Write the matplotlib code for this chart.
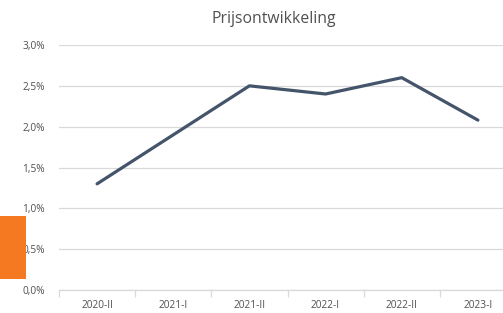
import matplotlib.pyplot as plt
from matplotlib.patches import Rectangle
from matplotlib.ticker import FixedLocator

plt.rcParams['font.family'] = ['Open Sans', 'DejaVu Sans']

periods = ['2020-II', '2021-I', '2021-II', '2022-I', '2022-II', '2023-I']
growth = [1.3, 1.9, 2.5, 2.4, 2.6, 2.08]
yticks = [0.0, 0.5, 1.0, 1.5, 2.0, 2.5, 3.0]
ytick_labels = ['0,0%', '0,5%', '1,0%', '1,5%', '2,0%', '2,5%', '3,0%']

W, H = 503, 313
fig = plt.figure(figsize=(W / 100, H / 100), dpi=100)
# plot area runs a bit past the right edge of the picture
ax = fig.add_axes([59 / W, 23 / H, (503 - 59) / W, 245 / H])

x = list(range(len(periods)))
ax.plot(x, growth, color='#44546A', linewidth=2.3, solid_capstyle='round',
        solid_joinstyle='round', zorder=3)

ax.set_ylim(0, 3.0)
ax.set_xlim(-0.5, -0.5 + 6 * (503 - 59) / (516 - 59))

ax.set_yticks(yticks)
ax.set_yticklabels(ytick_labels)
ax.yaxis.grid(True, color='#D9D9D9', linewidth=0.9)
ax.set_axisbelow(True)

# tick marks on category edges, labels on category centres
ax.xaxis.set_major_locator(FixedLocator([i - 0.5 for i in range(len(periods) + 1)]))
ax.xaxis.set_major_formatter(plt.NullFormatter())
ax.xaxis.set_minor_locator(FixedLocator(x))
ax.set_xticklabels(periods, minor=True)
ax.tick_params(axis='x', which='major', length=5, color='#D9D9D9', width=0.9)
ax.tick_params(axis='x', which='minor', length=0, pad=7, labelsize=7.3, labelcolor='#505050')
ax.tick_params(axis='y', length=0, pad=10, labelsize=7.3, labelcolor='#505050')

for s in ['top', 'right', 'left']:
    ax.spines[s].set_visible(False)
ax.spines['bottom'].set_color('#D9D9D9')
ax.spines['bottom'].set_linewidth(0.9)

fig.text(274 / W, 1 - 19 / H, 'Prijsontwikkeling', ha='center', va='center',
         fontsize=11.3, color='#505050')

# orange block on the left edge
fig.patches.append(Rectangle((0, 1 - 279 / H), 26 / W, 63 / H, transform=fig.transFigure,
                             facecolor='#F47920', edgecolor='none', zorder=5))

fig.savefig('out.png', dpi=100)
